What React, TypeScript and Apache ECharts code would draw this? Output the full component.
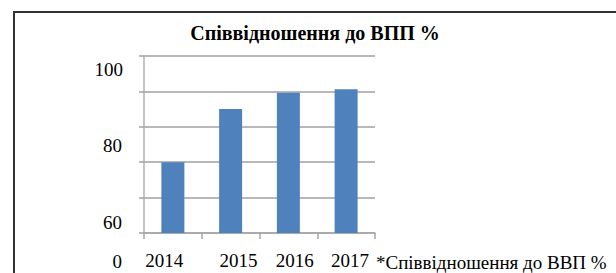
import React, { useEffect, useRef } from "react";
import * as echarts from "echarts";

const categories = ["2014", "2015", "2016", "2017"];
const seriesValues = [70, 85, 89.6, 90.6];
const yTickLabels = ["100", "80", "60", "0"];
const titleText = "Співвідношення до ВПП %";
const noteText = "*Співвідношення до ВВП %";

// layout (positions only)
const yLabelPos = [
  [123, 69],
  [122, 145],
  [122, 222],
  [122, 261],
];
const xLabelShift = [-8.75, 7.75, 6.25, 3.75];

const FONT = "Liberation Serif, Times New Roman, serif";
const FS = 19;

export default function App() {
  const ref = useRef<HTMLDivElement>(null);
  useEffect(() => {
    if (!ref.current) return;
    const chart = echarts.init(ref.current, undefined, { renderer: "svg" });
    const rich: Record<string, any> = {};
    xLabelShift.forEach((d, i) => {
      rich["l" + i] = {
        fontFamily: FONT,
        fontSize: FS,
        color: "#000",
        padding: d < 0 ? [0, -2 * d, 0, 0] : [0, 0, 0, 2 * d],
      };
    });
    chart.setOption({
      animation: false,
      backgroundColor: "#fff",
      title: {
        text: titleText,
        left: 310,
        top: 18,
        textAlign: "center",
        textStyle: {
          fontFamily: FONT,
          fontSize: 20,
          fontWeight: "bold",
          color: "#000",
        },
      },
      grid: { left: 144, right: 241, top: 56, bottom: 40 },
      xAxis: {
        type: "category",
        data: categories,
        boundaryGap: true,
        axisLine: { lineStyle: { color: "#a6a6a6", width: 1.5 } },
        axisTick: { show: true, length: 6, alignWithLabel: false, lineStyle: { color: "#a6a6a6", width: 1.5 } },
        axisLabel: {
          interval: 0,
          hideOverlap: false,
          margin: 18,
          fontFamily: FONT,
          fontSize: FS,
          formatter: (v: string) => {
            const i = categories.indexOf(v);
            return "{l" + i + "|" + v + "}";
          },
          rich,
        },
      },
      yAxis: {
        type: "value",
        min: 50,
        max: 100,
        interval: 10,
        axisLine: { show: true, lineStyle: { color: "#b0b0b0", width: 1.5 } },
        axisTick: { show: true, length: 5, lineStyle: { color: "#a0a0a0", width: 1.5 } },
        axisLabel: { show: false },
        splitLine: { show: true, lineStyle: { color: "#a0a0a0", width: 1.5 } },
      },
      series: [
        {
          type: "bar",
          data: seriesValues,
          barWidth: 23,
          itemStyle: { color: "#4f81bd" },
        },
      ],
      graphic: [
        {
          type: "rect",
          shape: { x: 14, y: 12, width: 800, height: 400 },
          style: { fill: "none", stroke: "#333", lineWidth: 2 },
          silent: true,
        },
        ...yTickLabels.map((t, i) => ({
          type: "text",
          x: yLabelPos[i][0],
          y: yLabelPos[i][1],
          style: {
            text: t,
            fontFamily: FONT,
            fontSize: FS,
            fill: "#000",
            align: "right",
            verticalAlign: "middle",
          },
        })),
        {
          type: "text",
          x: 376,
          y: 262,
          style: {
            text: noteText,
            fontFamily: FONT,
            fontSize: FS,
            fill: "#000",
            align: "left",
            verticalAlign: "middle",
          },
        },
      ],
    });
    return () => chart.dispose();
  }, []);
  return (
    <div
      ref={ref}
      style={{ position: "fixed", left: 0, top: 0, width: 616, height: 273 }}
    />
  );
}
